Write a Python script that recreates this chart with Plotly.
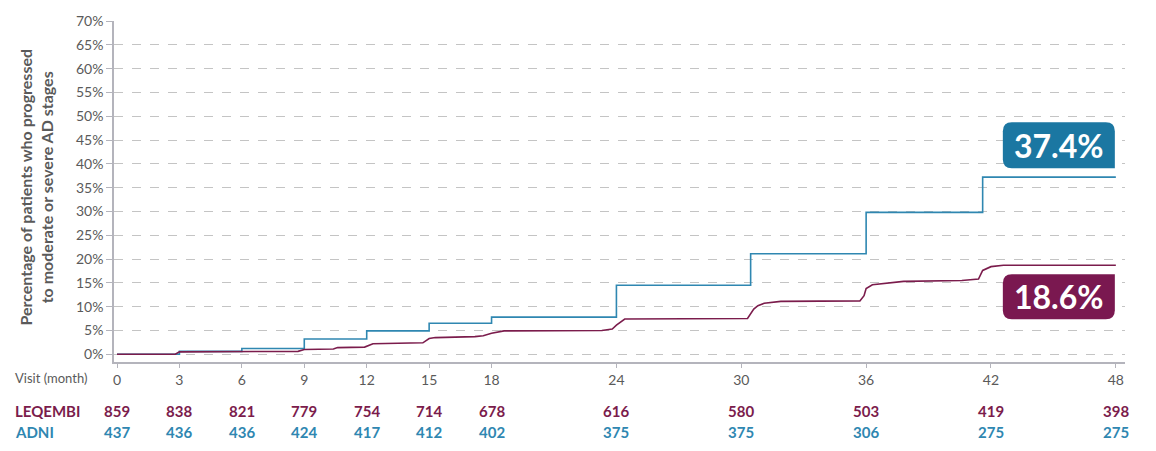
import plotly.graph_objects as go

# ---------------- data ----------------
adni_months = [0, 3, 6, 9, 12, 15, 18, 24, 30.45, 36, 41.6, 48]
adni_pct = [0, 0.6, 1.2, 3.2, 4.9, 6.5, 7.8, 14.5, 21.1, 29.8, 37.2, 37.2]

leq_months = [0, 2.8, 3.0, 8.7, 9.0, 10.4, 10.6, 11.9, 12.3, 14.7, 15.0, 15.3,
              17.2, 17.6, 18.0, 18.6, 23.3, 23.8, 24.0, 24.4, 30.3, 30.6, 30.8,
              31.1, 31.9, 35.7, 35.9, 36.0, 36.3, 37.0, 37.8, 40.6, 41.4, 41.6,
              42.0, 42.6, 48]
leq_pct = [0, 0, 0.5, 0.6, 1.0, 1.1, 1.4, 1.5, 2.2, 2.4, 3.3, 3.5,
           3.7, 3.9, 4.4, 4.9, 5.0, 5.3, 6.1, 7.4, 7.5, 9.5, 10.2,
           10.7, 11.1, 11.2, 12.3, 13.8, 14.6, 14.9, 15.3, 15.5, 15.8, 17.6,
           18.4, 18.7, 18.7]

visit_months = [0, 3, 6, 9, 12, 15, 18, 24, 30, 36, 42, 48]
leq_at_risk = [859, 838, 821, 779, 754, 714, 678, 616, 580, 503, 419, 398]
adni_at_risk = [437, 436, 436, 424, 417, 412, 402, 375, 375, 306, 275, 275]

y_ticks = list(range(0, 75, 5))
y_tick_labels = [f"{v}%" for v in y_ticks]

leq_final_label = "18.6%"
adni_final_label = "37.4%"

# ---------------- style ----------------
BLUE_LINE = "#2f87b1"
BLUE_BOX = "#1b77a2"
MAROON_LINE = "#7b1c4c"
MAROON_BOX = "#7a1850"
GRAY_TXT = "#5a5a5a"
AXIS_COL = "#b4b4bc"
FONT = "Lato"

fig = go.Figure()

fig.add_trace(go.Scatter(
    x=adni_months, y=adni_pct, mode="lines", line_shape="hv",
    line=dict(color=BLUE_LINE, width=1.6), name="ADNI", hoverinfo="skip"))
fig.add_trace(go.Scatter(
    x=leq_months, y=leq_pct, mode="lines",
    line=dict(color=MAROON_LINE, width=1.6), name="LEQEMBI", hoverinfo="skip"))


def rounded_box(x0, y0, x1, y1, r, square_corner):
    rr = {c: (0 if c == square_corner else r) for c in ("tl", "tr", "br", "bl")}
    p = f"M{x0 + rr['tl']},{y1} "
    p += f"L{x1 - rr['tr']},{y1} "
    p += f"Q{x1},{y1} {x1},{y1 - rr['tr']} " if rr['tr'] else ""
    p += f"L{x1},{y0 + rr['br']} "
    p += f"Q{x1},{y0} {x1 - rr['br']},{y0} " if rr['br'] else ""
    p += f"L{x0 + rr['bl']},{y0} "
    p += f"Q{x0},{y0} {x0},{y0 + rr['bl']} " if rr['bl'] else ""
    p += f"L{x0},{y1 - rr['tl']} "
    p += f"Q{x0},{y1} {x0 + rr['tl']},{y1} " if rr['tl'] else ""
    return p + "Z"


fig.add_shape(type="path", xref="x", yref="y", xsizemode="pixel", ysizemode="pixel",
              xanchor=adni_months[-1], yanchor=adni_pct[-1],
              path=rounded_box(-113, 9, -1, 55, 9, "br"),
              fillcolor=BLUE_BOX, line=dict(width=0), layer="above")
fig.add_shape(type="path", xref="x", yref="y", xsizemode="pixel", ysizemode="pixel",
              xanchor=leq_months[-1], yanchor=leq_pct[-1],
              path=rounded_box(-113, -54, -1, -9, 9, "tr"),
              fillcolor=MAROON_BOX, line=dict(width=0), layer="above")

fig.add_annotation(x=adni_months[-1], y=adni_pct[-1], xref="x", yref="y",
                   text=f"<b>{adni_final_label}</b>", showarrow=False,
                   xshift=-57, yshift=32, font=dict(family=FONT, size=32, color="white"))
fig.add_annotation(x=leq_months[-1], y=leq_pct[-1], xref="x", yref="y",
                   text=f"<b>{leq_final_label}</b>", showarrow=False,
                   xshift=-57, yshift=-31, font=dict(family=FONT, size=32, color="white"))


def px_x(px):
    return (px - 114) / 1011


def px_y(py):
    return (362 - py) / 350


# y-axis title
fig.add_annotation(x=px_x(36), y=px_y(183), xref="paper", yref="paper",
                   text="<b>Percentage of patients who progressed<br>to moderate or severe AD stages</b>",
                   textangle=-90, showarrow=False, xanchor="center", yanchor="middle",
                   font=dict(family=FONT, size=16, color=GRAY_TXT))

# x label and at-risk table
fig.add_annotation(x=px_x(13), y=px_y(378), xref="paper", yref="paper", text="Visit (month)",
                   showarrow=False, xanchor="left", yanchor="middle",
                   font=dict(family=FONT, size=13, color=GRAY_TXT))
fig.add_annotation(x=px_x(13), y=px_y(412), xref="paper", yref="paper", text="<b>LEQEMBI</b>",
                   showarrow=False, xanchor="left", yanchor="middle",
                   font=dict(family=FONT, size=15, color=MAROON_LINE))
fig.add_annotation(x=px_x(13), y=px_y(434), xref="paper", yref="paper", text="<b>ADNI</b>",
                   showarrow=False, xanchor="left", yanchor="middle",
                   font=dict(family=FONT, size=15, color=BLUE_LINE))
for m, a, b in zip(visit_months, leq_at_risk, adni_at_risk):
    fig.add_annotation(x=m, y=px_y(412), xref="x", yref="paper", text=f"<b>{a}</b>",
                       showarrow=False, xanchor="center", yanchor="middle",
                       font=dict(family=FONT, size=15, color=MAROON_LINE))
    fig.add_annotation(x=m, y=px_y(434), xref="x", yref="paper", text=f"<b>{b}</b>",
                       showarrow=False, xanchor="center", yanchor="middle",
                       font=dict(family=FONT, size=15, color=BLUE_LINE))

fig.update_layout(
    width=1156, height=451,
    margin=dict(l=114, r=31, t=12, b=89),
    paper_bgcolor="white", plot_bgcolor="white",
    showlegend=False,
    font=dict(family=FONT, size=14, color=GRAY_TXT),
    xaxis=dict(range=[-0.144, 48.44], tickvals=visit_months, ticktext=[str(v) for v in visit_months],
               showgrid=False, zeroline=False, showline=True, linecolor=AXIS_COL, linewidth=1.5,
               ticks="outside", ticklen=4, tickcolor=AXIS_COL, tickwidth=1,
               tickfont=dict(family=FONT, size=14, color=GRAY_TXT)),
    yaxis=dict(range=[-1.63, 70], tickvals=y_ticks, ticktext=y_tick_labels,
               showgrid=True, gridcolor="#c4c4c4", griddash="dash", gridwidth=1,
               zeroline=False, showline=True, linecolor=AXIS_COL, linewidth=1.5,
               ticks="outside", ticklen=6, tickcolor=AXIS_COL, tickwidth=1,
               tickfont=dict(family=FONT, size=14, color=GRAY_TXT)),
)

fig.write_html("out.html")
